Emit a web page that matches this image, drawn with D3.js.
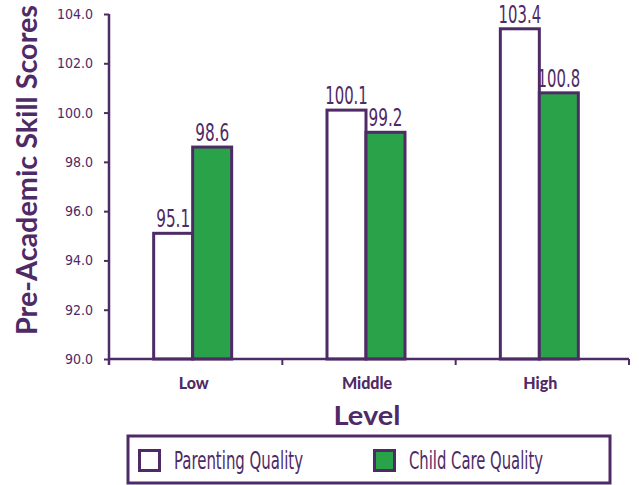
<!DOCTYPE html>
<html>
<head>
<meta charset="utf-8">
<script src="https://cdn.jsdelivr.net/npm/d3@7"></script>
<style>
  body { margin: 0; background: #fff; }
  svg { display: block; }
</style>
</head>
<body>
<div id="chart"></div>
<script>
// chart data
var levels = ['Low', 'Middle', 'High'];
var seriesNames = ['Parenting Quality', 'Child Care Quality'];
var parenting = [95.1, 100.1, 103.4];
var childCare = [98.6, 99.2, 100.8];
var yTicks = [90, 92, 94, 96, 98, 100, 102, 104];

var svgWidth = 639;
var svgHeight = 485;
var purple = '#4e2a66';
var green = '#2aa24a';

var margin = { top: 14, right: 10, bottom: 126, left: 109 };
var width = 629 - margin.left;
var height = 359 - margin.top;

var svg = d3.select('#chart')
  .append('svg')
  .attr('width', svgWidth)
  .attr('height', svgHeight);

var chartGroup = svg.append('g')
  .attr('transform', `translate(${margin.left}, ${margin.top})`);

var rows = levels.map(function(l, i) {
  return { level: l, values: [parenting[i], childCare[i]] };
});

// scales
var x0 = d3.scaleBand()
  .domain(levels)
  .range([0, width])
  .padding(0);

var barW = 39;
var x1 = d3.scaleBand()
  .domain(seriesNames)
  .range([x0.bandwidth() / 2 - barW - 3, x0.bandwidth() / 2 + barW - 3]);

var y = d3.scaleLinear()
  .domain([90, 104])
  .range([height, 0]);

// bars
var groups = chartGroup.selectAll('.grp')
  .data(rows)
  .enter()
  .append('g')
  .attr('class', 'grp')
  .attr('transform', d => `translate(${x0(d.level)}, 0)`);

groups.selectAll('rect')
  .data(d => d.values.map((v, i) => ({ name: seriesNames[i], value: v })))
  .enter()
  .append('rect')
  .attr('x', d => x1(d.name))
  .attr('y', d => y(d.value))
  .attr('width', x1.bandwidth())
  .attr('height', d => height - y(d.value))
  .attr('fill', d => d.name === seriesNames[0] ? '#fff' : green)
  .attr('stroke', purple)
  .attr('stroke-width', 3);

groups.selectAll('.val')
  .data(d => d.values.map((v, i) => ({ name: seriesNames[i], value: v })))
  .enter()
  .append('text')
  .attr('class', 'val')
  .attr('x', d => x1(d.name) + x1.bandwidth() / 2)
  .attr('y', d => y(d.value) - 6)
  .attr('text-anchor', 'middle')
  .attr('font-family', 'Liberation Sans Narrow, DejaVu Sans Condensed, sans-serif')
  .attr('font-size', 25)
  .attr('textLength', d => d.value.toFixed(1).length * 8.5)
  .attr('lengthAdjust', 'spacingAndGlyphs')
  .attr('fill', purple)
  .text(d => d.value.toFixed(1));

// axes
var leftAxis = d3.axisLeft(y)
  .tickValues(yTicks)
  .tickFormat(d3.format('.1f'))
  .tickSize(5)
  .tickPadding(11);

var yAxisG = chartGroup.append('g').call(leftAxis);
yAxisG.select('.domain').remove();
yAxisG.selectAll('line').attr('stroke', purple).attr('stroke-width', 2);
yAxisG.selectAll('text')
  .attr('fill', purple)
  .attr('font-family', 'Liberation Sans Narrow, DejaVu Sans Condensed, sans-serif')
  .attr('font-size', 14);

chartGroup.append('line')
  .attr('x1', 0).attr('x2', 0)
  .attr('y1', 0).attr('y2', height + 6)
  .attr('stroke', purple)
  .attr('stroke-width', 2.5);

chartGroup.append('line')
  .attr('x1', 0).attr('x2', width)
  .attr('y1', height).attr('y2', height)
  .attr('stroke', purple)
  .attr('stroke-width', 2.5);

// category tick marks on band edges
chartGroup.selectAll('.ctick')
  .data(levels.concat(['end']))
  .enter()
  .append('line')
  .attr('class', 'ctick')
  .attr('x1', (d, i) => i * x0.step())
  .attr('x2', (d, i) => i * x0.step())
  .attr('y1', height)
  .attr('y2', height + 6)
  .attr('stroke', purple)
  .attr('stroke-width', 2);

chartGroup.selectAll('.clabel')
  .data(levels)
  .enter()
  .append('text')
  .attr('class', 'clabel')
  .attr('x', d => x0(d) + x0.bandwidth() / 2 - 2)
  .attr('y', height + 30)
  .attr('text-anchor', 'middle')
  .attr('font-family', 'Lato, sans-serif')
  .attr('font-weight', 900)
  .attr('font-size', 16)
  .attr('fill', purple)
  .text(d => d);

// axis titles
chartGroup.append('text')
  .attr('x', width / 2 - 2)
  .attr('y', height + 66)
  .attr('text-anchor', 'middle')
  .attr('font-family', 'Lato, sans-serif')
  .attr('font-weight', 'bold')
  .attr('font-size', 27)
  .attr('textLength', 67)
  .attr('lengthAdjust', 'spacingAndGlyphs')
  .attr('fill', purple)
  .text('Level');

svg.append('text')
  .attr('transform', 'translate(37, 170) rotate(-90)')
  .attr('text-anchor', 'middle')
  .attr('font-family', 'Lato, sans-serif')
  .attr('font-weight', 'bold')
  .attr('font-size', 29)
  .attr('textLength', 330)
  .attr('lengthAdjust', 'spacingAndGlyphs')
  .attr('fill', purple)
  .text('Pre-Academic Skill Scores');

// legend
var legend = svg.append('g').attr('transform', 'translate(128, 436)');
legend.append('rect')
  .attr('width', 482)
  .attr('height', 47)
  .attr('fill', '#fff')
  .attr('stroke', purple)
  .attr('stroke-width', 3);

var legendX = [10, 245];
var legendTextW = [129, 134];
var items = legend.selectAll('.item')
  .data(seriesNames)
  .enter()
  .append('g')
  .attr('class', 'item')
  .attr('transform', (d, i) => `translate(${legendX[i]}, 0)`);

items.append('rect')
  .attr('x', 1.5).attr('y', 14.5)
  .attr('width', 20).attr('height', 20)
  .attr('fill', (d, i) => i === 0 ? '#fff' : green)
  .attr('stroke', purple)
  .attr('stroke-width', 3);

items.append('text')
  .attr('x', 36)
  .attr('y', 33)
  .attr('font-family', 'Liberation Sans Narrow, DejaVu Sans Condensed, sans-serif')
  .attr('font-size', 24)
  .attr('textLength', (d, i) => legendTextW[i])
  .attr('lengthAdjust', 'spacingAndGlyphs')
  .attr('fill', purple)
  .text(d => d);
</script>
</body>
</html>
